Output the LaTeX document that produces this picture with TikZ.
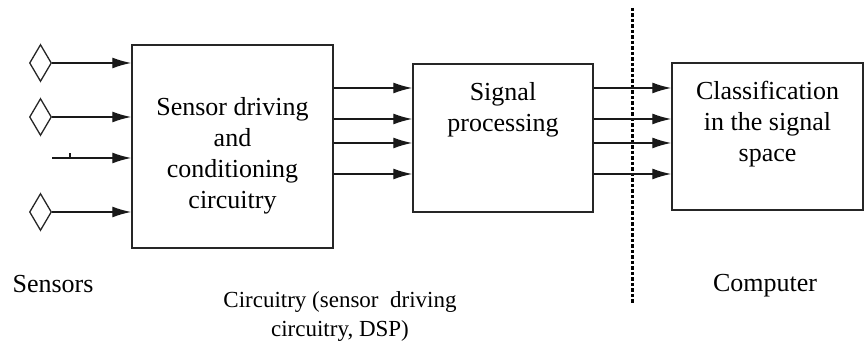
\documentclass[tikz,border=0pt]{standalone}
\usepackage{fontspec}
\setmainfont{Liberation Serif}
\usetikzlibrary{shapes.geometric,arrows.meta}

\begin{document}
\begin{tikzpicture}[x=1pt,y=1pt,
  blk/.style={draw=black!85,line width=1.5pt,inner sep=0pt},
  sens/.style={draw=black!85,diamond,line width=1.3pt,inner sep=0pt,minimum width=22,minimum height=37},
  txt/.style={font=\fontsize{26}{31}\selectfont,align=center,inner sep=0pt},
  captxt/.style={font=\fontsize{23}{29}\selectfont,align=center,inner sep=0pt},
  sig/.style={draw=black!90,line width=1.4pt,-{Latex[length=19pt,width=11pt]}},
  cutline/.style={draw=black,line width=3pt,dash pattern=on 3.5pt off 2pt}]
  \useasboundingbox (0,0) rectangle (865,347);

  % sensors
  \node[sens] (s1) at (40.5,284) {};
  \node[sens] (s2) at (40.5,230) {};
  \coordinate (s3) at (52,189);
  \node[sens] (s4) at (40.5,135) {};

  % blocks
  \node[blk,minimum width=201,minimum height=203] (drv) at (232.5,200.5) {};
  \node[blk,minimum width=180,minimum height=148] (dsp) at (503,209) {};
  \node[blk,minimum width=191,minimum height=147] (cls) at (767.5,210.5) {};

  \node[txt] (drv-t) at (232.5,191.5) {Sensor driving\\and\\conditioning\\circuitry};
  \node[txt] (dsp-t) at (503,237.5) {Signal\\processing};
  \node[txt] (cls-t) at (767.5,223) {Classification\\in the signal\\space};

  % captions
  \node[txt,anchor=base] (sens-t) at (53,54) {Sensors};
  \node[txt,anchor=base] (comp-t) at (765,55) {Computer};
  \node[captxt] (circ-t) at (340,30.5) {Circuitry (sensor\ \ driving\\circuitry, DSP)};

  % computer boundary
  \coordinate (cut-top) at (632,339);
  \coordinate (cut-bot) at (632,44);
  \draw[cutline] (cut-top) -- (cut-bot);

  % sensor lines
  \foreach \s in {s1.east,s2.east,s3,s4.east}
    \draw[sig] (\s) -- (\s -| drv.west);
  \draw[black!90,line width=1.1pt] ([xshift=18]s3) -- ++(0,5);

  % parallel channels
  \foreach \y [count=\i] in {259,228,204,173}
  {
    \coordinate (ch\i) at (0,\y);
    \draw[sig] (drv.east |- ch\i) -- (dsp.west |- ch\i);
    \draw[sig] (dsp.east |- ch\i) -- (cls.west |- ch\i);
  }
\end{tikzpicture}
\end{document}
